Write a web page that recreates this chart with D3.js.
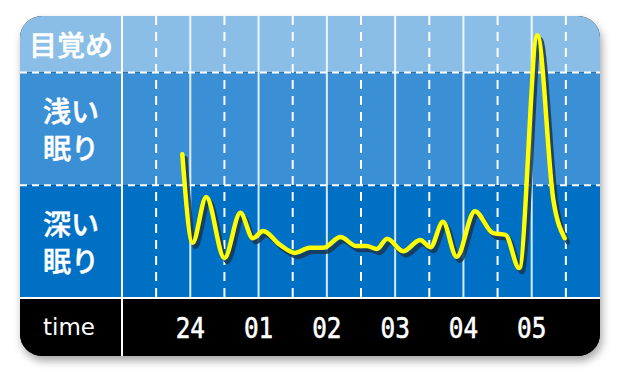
<!DOCTYPE html>
<html>
<head>
<meta charset="utf-8">
<script src="https://cdn.jsdelivr.net/npm/d3@7"></script>
<style>
  body { margin: 0; background: #fff; }
</style>
</head>
<body>
<div id="chart"></div>
<script>
// sleep stages, top to bottom
const stageNames = [["目覚め"], ["浅い", "眠り"], ["深い", "眠り"]];
const stageColors = ["#8bbee6", "#3a8fd5", "#0070c5"];
const stageRanges = [[4, 5], [2, 4], [0, 2]];

// hour ticks (minutes after 23:00)
const hourTicks = [60, 120, 180, 240, 300, 360];
const hourLabels = ["24", "01", "02", "03", "04", "05"];
const halfTicks = [30, 90, 150, 210, 270, 330, 390];

// sleep curve: minutes after 23:00 and depth value (0 deep .. 5 awake)
const sleepMinutes = [53, 62, 74, 90, 104, 115, 124, 139, 152, 165, 177, 192, 206, 215, 224, 233, 247, 262, 271, 282, 294, 310, 326, 337, 349, 365, 379, 389];
const sleepDepth = [2.55, 0.98, 1.79, 0.71, 1.51, 1.06, 1.19, 0.94, 0.80, 0.89, 0.89, 1.08, 0.92, 0.92, 0.87, 1.05, 0.83, 1.03, 0.90, 1.35, 0.73, 1.54, 1.15, 1.12, 0.53, 4.66, 1.74, 1.06];

const width = 620, height = 380;
const card = {x: 20, y: 16, w: 580, h: 340, r: 22};
const labelW = 102; // left column
const plotBottom = 298;

const svg = d3.select("#chart").append("svg")
    .attr("width", width).attr("height", height);

const defs = svg.append("defs");
const shadow = defs.append("filter").attr("id", "cardShadow")
    .attr("x", "-10%").attr("y", "-10%").attr("width", "120%").attr("height", "130%");
shadow.append("feDropShadow")
    .attr("dx", 2).attr("dy", 5).attr("stdDeviation", 4)
    .attr("flood-color", "#000").attr("flood-opacity", 0.35);

defs.append("clipPath").attr("id", "cardClip")
    .append("rect")
    .attr("x", card.x).attr("y", card.y).attr("width", card.w).attr("height", card.h)
    .attr("rx", card.r);

const x = d3.scaleLinear().domain([0, 420]).range([card.x + labelW, card.x + card.w]);
const y = d3.scaleLinear().domain([0, 5]).range([plotBottom, card.y]);

svg.append("rect")
    .attr("x", card.x).attr("y", card.y).attr("width", card.w).attr("height", card.h)
    .attr("rx", card.r).attr("fill", "#000")
    .attr("filter", "url(#cardShadow)");

const g = svg.append("g").attr("clip-path", "url(#cardClip)");

// bands across full width
g.selectAll(".band")
    .data(stageRanges)
    .join("rect")
    .attr("class", "band")
    .attr("x", card.x)
    .attr("width", card.w)
    .attr("y", d => y(d[1]))
    .attr("height", d => y(d[0]) - y(d[1]))
    .attr("fill", (d, i) => stageColors[i]);

// time row
g.append("rect")
    .attr("x", card.x).attr("y", plotBottom)
    .attr("width", card.w).attr("height", card.y + card.h - plotBottom)
    .attr("fill", "#000");

// vertical grid
g.selectAll(".half")
    .data(halfTicks)
    .join("line")
    .attr("x1", d => x(d)).attr("x2", d => x(d))
    .attr("y1", card.y).attr("y2", plotBottom)
    .attr("stroke", "#fff").attr("stroke-width", 2)
    .attr("stroke-dasharray", "9,7");

g.selectAll(".hour")
    .data(hourTicks)
    .join("line")
    .attr("x1", d => x(d)).attr("x2", d => x(d))
    .attr("y1", card.y).attr("y2", plotBottom)
    .attr("stroke", "#fff").attr("stroke-opacity", 0.85).attr("stroke-width", 2);

// horizontal boundaries
g.selectAll(".hdash")
    .data([4, 2])
    .join("line")
    .attr("x1", card.x).attr("x2", card.x + card.w)
    .attr("y1", d => y(d)).attr("y2", d => y(d))
    .attr("stroke", "#fff").attr("stroke-width", 2)
    .attr("stroke-dasharray", "7,5");

g.append("line")
    .attr("x1", card.x).attr("x2", card.x + card.w)
    .attr("y1", plotBottom).attr("y2", plotBottom)
    .attr("stroke", "#fff").attr("stroke-width", 2);

g.append("line")
    .attr("x1", x(0)).attr("x2", x(0))
    .attr("y1", card.y).attr("y2", card.y + card.h)
    .attr("stroke", "#fff").attr("stroke-width", 2);

// stage labels
const labelX = card.x + labelW / 2;
stageNames.forEach((lines, i) => {
    const cy = (y(stageRanges[i][0]) + y(stageRanges[i][1])) / 2;
    const lh = 37;
    lines.forEach((t, j) => {
        g.append("text")
            .attr("x", labelX)
            .attr("y", cy + (j - (lines.length - 1) / 2) * lh)
            .attr("text-anchor", "middle")
            .attr("dominant-baseline", "central")
            .attr("font-family", "'Noto Sans CJK JP', sans-serif")
            .attr("font-weight", 500)
            .attr("font-size", 28)
            .attr("fill", "#fff")
            .attr("stroke", "#fff").attr("stroke-width", 0.45)
            .text(t);
    });
});

const timeY = (plotBottom + card.y + card.h) / 2;
g.append("text")
    .attr("x", labelX - 2).attr("y", timeY + 8)
    .attr("text-anchor", "middle")
    .attr("font-family", "'DejaVu Sans', sans-serif")
    .attr("font-size", 23)
    .attr("fill", "#fff")
    .text("time");

g.selectAll(".hlabel")
    .data(hourTicks)
    .join("text")
    .attr("transform", d => `translate(${x(d)},${timeY + 11}) scale(0.84,1)`)
    .attr("text-anchor", "middle")
    .attr("font-family", "'DejaVu Sans Mono', monospace")
    .attr("font-size", 29)
    .attr("fill", "#fff")
    .attr("stroke", "#fff").attr("stroke-width", 0.6)
    .text((d, i) => hourLabels[i]);

// sleep curve with shadow
const pts = sleepMinutes.map((m, i) => [m, sleepDepth[i]]);
const line = d3.line()
    .x(d => x(d[0]))
    .y(d => y(d[1]))
    .curve(d3.curveMonotoneX);

g.append("path")
    .attr("d", line(pts))
    .attr("transform", "translate(3,4)")
    .attr("fill", "none")
    .attr("stroke", "#1a3550").attr("stroke-opacity", 0.85)
    .attr("stroke-width", 4.5)
    .attr("stroke-linecap", "round").attr("stroke-linejoin", "round");

g.append("path")
    .attr("d", line(pts))
    .attr("fill", "none")
    .attr("stroke", "#ffff00")
    .attr("stroke-width", 4.5)
    .attr("stroke-linecap", "round").attr("stroke-linejoin", "round");
</script>
</body>
</html>
